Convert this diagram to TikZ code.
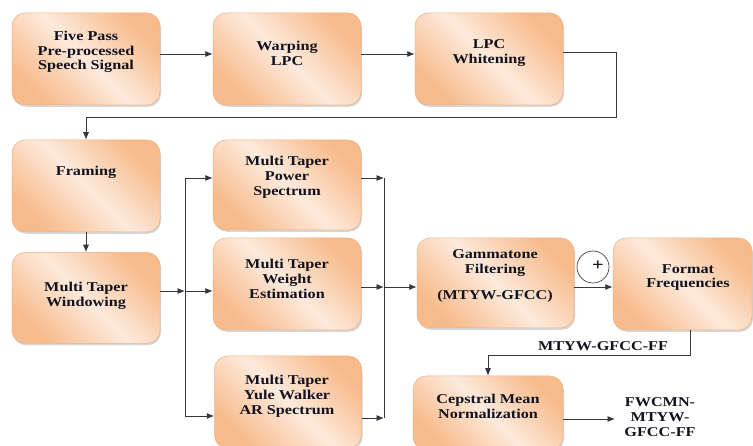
\documentclass[tikz,border=0pt]{standalone}
\usepackage{fontspec}
\setmainfont{Liberation Serif}[FakeStretch=1.2]
\usetikzlibrary{arrows.meta,shadows}
\definecolor{peach}{RGB}{247,186,138}
\definecolor{peachlight}{RGB}{253,234,220}
\definecolor{peachedge}{RGB}{236,178,135}
\definecolor{ink}{RGB}{18,18,30}
\tikzset{
  box/.style={rectangle, rounded corners=13pt, draw=peachedge, line width=0.5pt,
    top color=peach, bottom color=peach, middle color=peachlight, shading angle=-45,
    drop shadow={shadow xshift=1pt, shadow yshift=-1.8pt, fill=black!45, opacity=0.35},
    inner sep=0pt},
  txt/.style={align=center, text=ink, font=\bfseries\fontsize{13.5}{14.8}\selectfont, inner sep=0pt},
  arr/.style={-{Latex[length=7.5pt,width=6pt]}, draw=ink!85, line width=0.8pt},
  ln/.style={draw=ink!85, line width=0.8pt},
}
\begin{document}
\begin{tikzpicture}[x=1pt,y=-1pt]
\useasboundingbox (0,0) rectangle (753,446);
\fill[white] (0,0) rectangle (753,446);
% boxes
\node[box, minimum width=148pt, minimum height=92pt] (b1) at (86,59) {};
\node[box, minimum width=148pt, minimum height=92pt] (b2) at (287,59) {};
\node[box, minimum width=148pt, minimum height=92pt] (b3) at (489,59) {};
\node[box, minimum width=148pt, minimum height=92pt] (b4) at (86,186) {};
\node[box, minimum width=148pt, minimum height=91pt] (b5) at (86,298) {};
\node[box, minimum width=148pt, minimum height=90pt] (b6) at (287,185) {};
\node[box, minimum width=148pt, minimum height=92pt] (b7) at (287,284) {};
\node[box, minimum width=147pt, minimum height=92pt] (b8) at (288,402) {};
\node[box, minimum width=157pt, minimum height=90pt] (b9) at (495.5,283) {};
\node[box, minimum width=139pt, minimum height=92pt] (b10) at (682.5,284) {};
\node[box, minimum width=150pt, minimum height=74pt] (b11) at (488,413) {};
% texts
\node[txt] (t1) at (86,52) {Five Pass\\Pre-processed\\Speech Signal};
\node[txt] (t2) at (287,53) {Warping\\LPC};
\node[txt] (t3) at (489,53) {LPC\\Whitening};
\node[txt] (t4) at (86,172) {Framing};
\node[txt] (t5) at (86,296) {Multi Taper\\Windowing};
\node[txt] (t6) at (287,177) {Multi Taper\\Power\\Spectrum};
\node[txt] (t7) at (287,279) {Multi Taper\\Weight\\Estimation};
\node[txt] (t8) at (287,396) {Multi Taper\\Yule Walker\\AR Spectrum};
\node[txt] (t9) at (495,276) {Gammatone\\Filtering\\[11pt](MTYW-GFCC)};
\node[txt] (t10) at (688,277.5) {Format\\Frequencies};
\node[txt] (t11) at (488,406) {Cepstral Mean\\Normalization};
\node[txt] (lab1) at (603,346) {MTYW-GFCC-FF};
\node[txt] (lab2) at (660,417) {FWCMN-\\MTYW-\\GFCC-FF};
% plus circle
\node[circle, draw=ink!80, line width=0.7pt, minimum size=32pt, inner sep=0pt] (pc) at (593,267) {};
\node[txt, font=\bfseries\fontsize{17}{17}\selectfont] (pl) at (598,266) {+};
% coordinates
\coordinate (c1) at (616,117);
\coordinate (jL) at (185,291);
\coordinate (jLt) at (185,178);
\coordinate (jLb) at (185,416);
\coordinate (jR) at (384,287);
\coordinate (jRt) at (384,178);
\coordinate (jRb) at (384,418);
\coordinate (c2) at (690,355);
\coordinate (out) at (615,419);
% connectors
\draw[arr] ([yshift=5pt]b1.east) -- ([yshift=5pt]b2.west);
\draw[arr] ([yshift=5pt]b2.east) -- ([yshift=5pt]b3.west);
\draw[arr] ([yshift=7pt]b3.east) -| (c1) -| (b4.north);
\draw[arr] (b4.south) -- (b5.north);
\draw[arr] ([yshift=7pt]b5.east) -- (jL);
\draw[ln] (jLt) -- (jLb);
\draw[arr] (jL) -- ([yshift=-7pt]b7.west);
\draw[arr] (jLt) -- ([yshift=7pt]b6.west);
\draw[arr] (jLb) -- ([yshift=-14pt]b8.west);
\draw[arr] ([yshift=7pt]b6.east) -- (jRt);
\draw[arr] ([yshift=-3pt]b7.east) -- (jR);
\draw[arr] ([yshift=-16pt]b8.east) -- (jRb);
\draw[ln] (jRt) -- (jRb);
\draw[arr] (jR) -- ([yshift=-4pt]b9.west);
\draw[arr] ([yshift=-4pt]b9.east) -- ([yshift=-3pt]b10.west);
\draw[arr] ([xshift=7.5pt]b10.south) -- (c2) -| (b11.north);
\draw[arr] ([yshift=-6pt]b11.east) -- (out);
\end{tikzpicture}
\end{document}
